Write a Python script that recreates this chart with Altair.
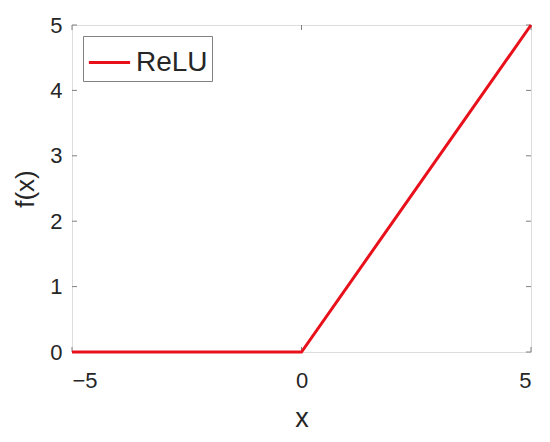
import altair as alt
import pandas as pd

xs = [-5, 0, 5]
ys = [0, 0, 5]
series = ["ReLU", "ReLU", "ReLU"]
y_ticks = [0, 1, 2, 3, 4, 5]
x_ticks = [-5, 0, 5]

df = pd.DataFrame({"x": xs, "y": ys, "s": series})
yt = pd.DataFrame({"y": y_ticks})
xt = pd.DataFrame({"x": x_ticks})

W, H = 459, 327
FONT = "Liberation Sans"
GRAY = "#808080"
TXT = "#262626"

xscale = alt.Scale(domain=[-5, 5], nice=False, zero=False)
yscale = alt.Scale(domain=[0, 5], nice=False, zero=False)

line = alt.Chart(df).mark_line(strokeWidth=3, clip=False).encode(
    x=alt.X("x:Q", scale=xscale, title="x",
            axis=alt.Axis(values=x_ticks, tickSize=0, domain=False, grid=False,
                          labelFontSize=22, labelFont=FONT, labelColor=TXT,
                          labelPadding=18, labelFlush=True, format="d",
                          titleFontSize=27, titleFont=FONT, titleColor=TXT,
                          titleFontWeight="normal", titlePadding=14)),
    y=alt.Y("y:Q", scale=yscale, title="f(x)",
            axis=alt.Axis(values=y_ticks, tickSize=0, domain=False, grid=False,
                          labelFontSize=22, labelFont=FONT, labelColor=TXT,
                          labelPadding=10, format="d",
                          titleFontSize=26, titleFont=FONT, titleColor=TXT,
                          titleFontWeight="normal", titleX=-34, titleY=H / 2)),
    color=alt.Color("s:N", scale=alt.Scale(range=["#e8101a"]),
                    legend=alt.Legend(title=None, orient="top-left", offset=11,
                                      strokeColor=GRAY, fillColor="white",
                                      padding=4, symbolType="stroke",
                                      symbolStrokeWidth=3, symbolSize=1700,
                                      labelFontSize=28, labelFont=FONT,
                                      labelColor=TXT, labelOffset=4)),
)

ytick_l = alt.Chart(yt).mark_rule(color=GRAY, strokeWidth=1).encode(
    y=alt.Y("y:Q", scale=yscale), x=alt.value(0), x2=alt.value(5))
ytick_r = alt.Chart(yt).mark_rule(color=GRAY, strokeWidth=1).encode(
    y=alt.Y("y:Q", scale=yscale), x=alt.value(W - 5), x2=alt.value(W))
xtick_b = alt.Chart(xt).mark_rule(color=GRAY, strokeWidth=1).encode(
    x=alt.X("x:Q", scale=xscale), y=alt.value(H - 5), y2=alt.value(H))
xtick_t = alt.Chart(xt).mark_rule(color=GRAY, strokeWidth=1).encode(
    x=alt.X("x:Q", scale=xscale), y=alt.value(0), y2=alt.value(5))

chart = alt.layer(ytick_l, ytick_r, xtick_b, xtick_t, line).properties(
    width=W, height=H,
    autosize=alt.AutoSizeParams(type="none"),
    padding={"left": 64, "top": 17, "right": 11, "bottom": 80},
).configure_view(stroke=GRAY, strokeWidth=1.5).configure(background="white")

chart.save("out.html", embed_options={"renderer": "svg", "actions": False})
